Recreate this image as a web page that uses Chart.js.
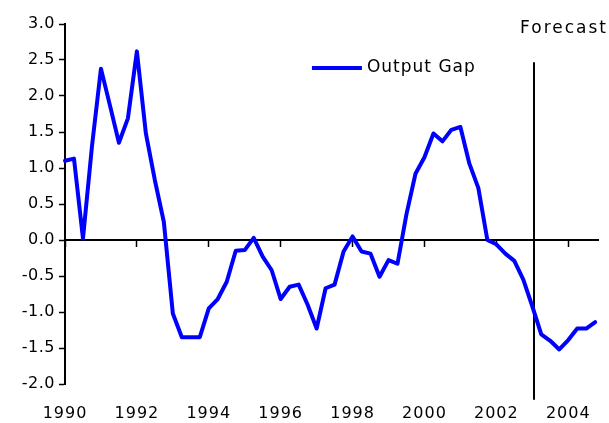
<!DOCTYPE html>
<html>
<head>
<meta charset="utf-8">
<script src="https://cdn.jsdelivr.net/npm/chart.js@4.4.1/dist/chart.umd.min.js"></script>
<style>
  html, body { margin: 0; padding: 0; background: #fff; }
  #wrap { width: 609px; height: 423px; }
</style>
</head>
<body>
<div id="wrap"><canvas id="gapChart" width="609" height="423"></canvas></div>
<script>
// Output gap, quarterly from 1990Q1
const startYear = 1990;
const outputGap = [
  1.10, 1.13, 0.02, 1.30, 2.38, 1.87, 1.35, 1.69,
  2.62, 1.48, 0.83, 0.25, -1.02, -1.35, -1.35, -1.35,
  -0.95, -0.82, -0.58, -0.15, -0.14, 0.03, -0.23, -0.42,
  -0.82, -0.65, -0.62, -0.90, -1.23, -0.67, -0.62, -0.16,
  0.05, -0.16, -0.19, -0.51, -0.28, -0.33, 0.36, 0.92,
  1.15, 1.48, 1.37, 1.53, 1.57, 1.06, 0.72, 0.00,
  -0.06, -0.19, -0.29, -0.55, -0.92, -1.31, -1.40, -1.52,
  -1.39, -1.23, -1.23, -1.14
];
const tickYears = [1990, 1992, 1994, 1996, 1998, 2000, 2002, 2004];
const seriesLabel = 'Output Gap';
const forecastLabel = 'Forecast';
const forecastFrom = 2003.06;

const FONT = '"DejaVu Sans", Verdana, sans-serif';
const xMin = 1990, xMax = 2004.85;

const points = outputGap.map((v, i) => ({ x: startYear + i / 4, y: v }));
const setYearTicks = (scale) => { scale.ticks = tickYears.map(v => ({ value: v })); };

// forecast marker, caption and the legend are drawn by hand
const annotations = {
  id: 'annotations',
  beforeDatasetsDraw(chart) {
    const { ctx, scales: { x, y } } = chart;
    const fx = Math.round(x.getPixelForValue(forecastFrom));
    ctx.save();
    ctx.strokeStyle = '#000';
    ctx.lineWidth = 2;
    ctx.beginPath();
    ctx.moveTo(fx, y.getPixelForValue(2.47));
    ctx.lineTo(fx, y.getPixelForValue(-2.22));
    ctx.stroke();
    ctx.restore();
  },
  afterDatasetsDraw(chart) {
    const { ctx, scales: { x, y } } = chart;
    ctx.save();
    ctx.fillStyle = '#000';
    ctx.textAlign = 'left';
    ctx.textBaseline = 'middle';
    ctx.font = '17px ' + FONT;
    ctx.letterSpacing = '2px';
    ctx.fillText(forecastLabel, x.getPixelForValue(2002.66), y.getPixelForValue(2.93));

    // legend
    const lx = x.getPixelForValue(1996.87);
    const ly = y.getPixelForValue(2.39);
    ctx.strokeStyle = '#0000ff';
    ctx.lineWidth = 4;
    ctx.beginPath();
    ctx.moveTo(lx, ly);
    ctx.lineTo(lx + 50, ly);
    ctx.stroke();
    ctx.letterSpacing = '1px';
    ctx.fillText(seriesLabel, lx + 55, ly);
    ctx.restore();
  }
};

// a bit of extra spacing on the tick labels, like the original
const spacedLabels = {
  id: 'spacedLabels',
  afterLayout(chart) {
    [['y', '0.5px'], ['xLabels', '1px']].forEach(([id, sp]) => {
      const s = chart.scales[id];
      if (!s || s._spaced) return;
      const orig = s.drawLabels.bind(s);
      s.drawLabels = (area) => {
        chart.ctx.save();
        chart.ctx.letterSpacing = sp;
        orig(area);
        chart.ctx.restore();
      };
      s._spaced = true;
    });
  }
};

const ctx = document.getElementById('gapChart').getContext('2d');
const gapChart = new Chart(ctx, {
  type: 'line',
  data: {
    datasets: [{
      label: seriesLabel,
      data: points,
      borderColor: '#0000ff',
      borderWidth: 4,
      borderJoinStyle: 'round',
      borderCapStyle: 'round',
      pointRadius: 0,
      tension: 0,
      fill: false,
      clip: false
    }]
  },
  options: {
    responsive: false,
    animation: false,
    events: [],
    layout: { padding: { top: 24, right: 7, left: 0, bottom: 0 } },
    plugins: { legend: { display: false }, tooltip: { enabled: false } },
    scales: {
      x: {
        type: 'linear',
        min: xMin,
        max: xMax,
        position: { y: 0 },
        afterBuildTicks: setYearTicks,
        ticks: { display: false },
        grid: { drawOnChartArea: false, tickLength: 6, color: '#000', tickWidth: 1.5 },
        border: { color: '#000', width: 2 }
      },
      xLabels: {
        type: 'linear',
        axis: 'x',
        position: 'bottom',
        min: xMin,
        max: xMax,
        afterBuildTicks: setYearTicks,
        afterFit: (s) => { s.height = 39; },
        ticks: {
          padding: 20,
          color: '#000',
          font: { family: FONT, size: 16 },
          maxRotation: 0,
          autoSkip: false,
          callback: (v) => String(v)
        },
        grid: { display: false, drawTicks: false },
        border: { display: false }
      },
      y: {
        min: -2,
        max: 3,
        afterFit: (s) => { s.width = 65; },
        ticks: {
          stepSize: 0.5,
          padding: 4,
          color: '#000',
          font: { family: FONT, size: 16 },
          callback: (v) => v.toFixed(1)
        },
        grid: { drawOnChartArea: false, tickLength: 6, color: '#000', tickWidth: 1.5 },
        border: { color: '#000', width: 2 }
      }
    }
  },
  plugins: [annotations, spacedLabels]
});
</script>
</body>
</html>
